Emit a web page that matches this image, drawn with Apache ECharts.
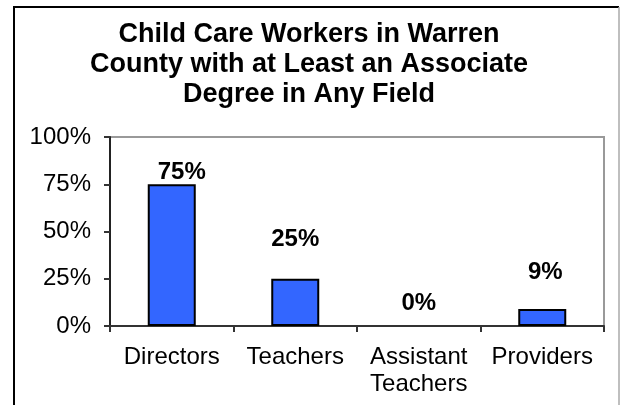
<!DOCTYPE html>
<html>
<head>
<meta charset="utf-8">
<script src="https://cdn.jsdelivr.net/npm/echarts@6/dist/echarts.min.js"></script>
<style>
    html, body { margin: 0; padding: 0; background: #fff; }
    #chart { width: 620px; height: 405px; }
</style>
</head>
<body>
<div id="chart"></div>
<script>
    // values
    var categories = ['Directors', 'Teachers', 'Assistant\nTeachers', 'Providers'];
    var values = [75, 25, 0, 9];
    var yTicks = [0, 25, 50, 75, 100];

    // hand placed data labels, like the original
    var labelOffsets = [[10, 0], [0, -27], [0, -11], [3, -25]];

    var chart = echarts.init(document.getElementById('chart'));
    var font = '"Liberation Sans", Arial, sans-serif';

    var barData = values.map(function (v, i) {
        var item = {
            value: v,
            label: { offset: labelOffsets[i] }
        };
        // an empty bar has no outline in the original
        if (v === 0) item.itemStyle = { borderWidth: 0 };
        return item;
    });

    var option = {
        animation: false,
        title: {
            text: 'Child Care Workers in Warren\nCounty with at Least an Associate\nDegree in Any Field',
            left: 304,
            top: 15,
            textAlign: 'center',
            textStyle: {
                fontFamily: font,
                fontSize: 27,
                fontWeight: 'bold',
                lineHeight: 30,
                color: '#000'
            }
        },
        grid: {
            left: 110,
            right: 16,
            top: 137,
            bottom: 79,
            show: true,
            borderColor: '#999',
            borderWidth: 2,
            backgroundColor: '#fff'
        },
        xAxis: {
            type: 'category',
            data: categories,
            axisLine: { lineStyle: { color: '#333', width: 2 } },
            axisTick: { show: true, length: 6, alignWithLabel: false, lineStyle: { color: '#333', width: 2 } },
            axisLabel: {
                fontFamily: font,
                fontSize: 24,
                lineHeight: 27,
                color: '#000',
                margin: 18,
                interval: 0
            }
        },
        yAxis: {
            type: 'value',
            min: 0,
            max: 100,
            interval: 25,
            axisLine: { show: true, lineStyle: { color: '#222', width: 2 } },
            axisTick: { show: true, length: 6, lineStyle: { color: '#333', width: 2 } },
            splitLine: { show: false },
            axisLabel: {
                fontFamily: font,
                fontSize: 24,
                color: '#000',
                margin: 19,
                formatter: function (v) {
                    return yTicks.indexOf(v) >= 0 ? v + '%' : '';
                }
            }
        },
        series: [{
            type: 'bar',
            data: barData,
            barWidth: 48,
            itemStyle: {
                color: '#3366FF',
                borderColor: '#000',
                borderWidth: 2
            },
            label: {
                show: true,
                position: 'top',
                distance: 0,
                fontFamily: font,
                fontSize: 24,
                fontWeight: 'bold',
                color: '#000',
                formatter: '{c}%'
            }
        }],
        graphic: [{
            type: 'polyline',
            shape: { points: [[14, 405], [14, 7], [619, 7]] },
            style: { stroke: '#000', lineWidth: 2, fill: null }
        }, {
            type: 'line',
            shape: { x1: 619, y1: 7, x2: 619, y2: 405 },
            style: { stroke: '#aaa', lineWidth: 1.5 }
        }]
    };

    chart.setOption(option);
</script>
</body>
</html>
